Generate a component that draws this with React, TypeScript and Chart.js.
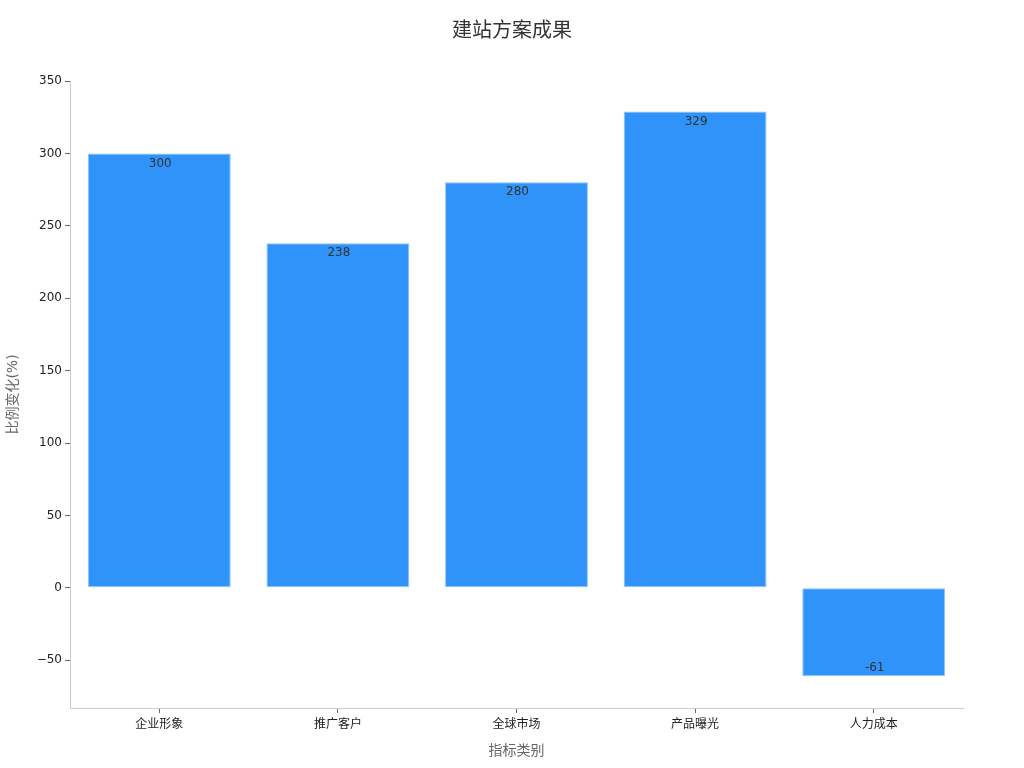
import { useEffect, useRef } from "react";
import Chart from "chart.js/auto";
import { type ChartConfiguration, type Plugin } from "chart.js";

const categories = ["企业形象", "推广客户", "全球市场", "产品曝光", "人力成本"];
const values = [300, 238, 280, 329, -61];
const yMin = -83;
const yMax = 350;
const yStep = 50;
const chartTitle = "建站方案成果";

const FONT = '"DejaVu Sans", "Noto Sans CJK SC", sans-serif';

// title centred on the whole canvas, not on the plot
const pageTitle: Plugin = {
    id: "pageTitle",
    afterDraw(chart) {
        const ctx = chart.ctx;
        ctx.save();
        ctx.font = `20px ${FONT}`;
        ctx.fillStyle = "#333";
        ctx.textAlign = "center";
        ctx.textBaseline = "middle";
        ctx.fillText(chartTitle, chart.width / 2, 32);
        ctx.restore();
    }
};

// value text just inside the bar end
const barLabels: Plugin = {
    id: "barLabels",
    afterDatasetsDraw(chart) {
        const ctx = chart.ctx;
        const meta = chart.getDatasetMeta(0);
        ctx.save();
        ctx.font = `12px ${FONT}`;
        ctx.fillStyle = "#333";
        ctx.textAlign = "center";
        ctx.textBaseline = "middle";
        meta.data.forEach((bar: any, i) => {
            const v = values[i];
            const y = v >= 0 ? bar.y + 10 : bar.y - 8;
            ctx.fillText(String(v), bar.x + 1, y);
        });
        ctx.restore();
    }
};

export default function App() {
    const chartRef = useRef<HTMLCanvasElement>(null);

    useEffect(() => {
        if (!chartRef.current) return;

        const config = {
            type: "bar",
            data: {
                labels: categories,
                datasets: [{
                    data: values,
                    backgroundColor: "#2f93f9",
                    borderColor: "#8dc5fb",
                    borderWidth: 1,
                    borderSkipped: false,
                    barPercentage: 0.8,
                    categoryPercentage: 1
                }]
            },
            options: {
                responsive: true,
                maintainAspectRatio: false,
                animation: false,
                layout: { padding: { left: 0, right: 61, top: 81, bottom: 0 } },
                plugins: {
                    legend: { display: false },
                    tooltip: { enabled: false },
                    title: { display: false }
                },
                scales: {
                    x: {
                        grid: { drawOnChartArea: false, drawTicks: true, tickLength: 5, color: "#666", offset: false },
                        border: { display: true, color: "#ccc" },
                        ticks: { color: "#222", font: { family: FONT, size: 12 }, padding: 5 },
                        title: {
                            display: true,
                            text: "指标类别",
                            color: "#666",
                            font: { family: FONT, size: 14 },
                            padding: { top: 8, bottom: 8 }
                        },
                        afterFit: (scale: any) => { scale.height = 60; }
                    },
                    y: {
                        min: yMin,
                        max: yMax,
                        grid: { drawOnChartArea: false, drawTicks: true, tickLength: 5, color: "#666" },
                        border: { display: true, color: "#ccc" },
                        ticks: {
                            stepSize: yStep,
                            color: "#222",
                            font: { family: FONT, size: 12 },
                            padding: 3,
                            callback: (v: any) => (v < 0 ? "\u2212" + Math.abs(v) : String(v))
                        },
                        afterBuildTicks: (scale: any) => {
                            scale.ticks = scale.ticks.filter((t: any) => t.value % yStep === 0);
                        },
                        title: {
                            display: true,
                            text: "比例变化(%)",
                            color: "#666",
                            font: { family: FONT, size: 14 },
                            padding: { top: 5, bottom: 4 }
                        },
                        afterFit: (scale: any) => { scale.width = 70; }
                    }
                }
            },
            plugins: [barLabels, pageTitle]
        };

        const chart = new Chart(chartRef.current, config as ChartConfiguration);
        return () => {
            chart.destroy();
        };
    }, []);

    return (
        <div style={{ position: "fixed", left: 0, top: 0, width: 1024, height: 768, background: "#fff" }}>
            <canvas ref={chartRef}></canvas>
        </div>
    );
}
